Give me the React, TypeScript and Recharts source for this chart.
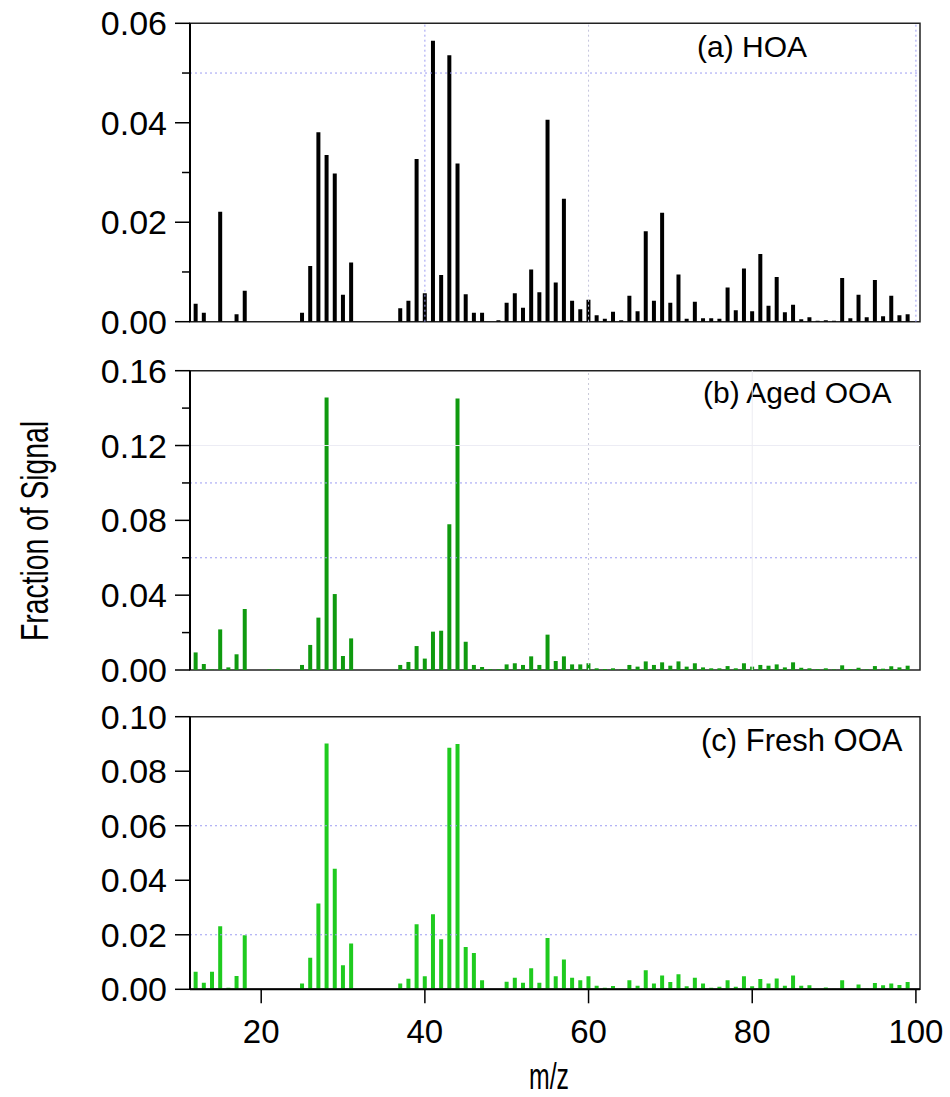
import React from "react";
import { BarChart, Bar, XAxis, YAxis, ReferenceLine, ReferenceArea } from "recharts";

// m/z values
const MZ = [12, 13, 14, 15, 16, 17, 18, 19, 20, 21, 22, 23, 24, 25, 26, 27, 28, 29, 30, 31, 32, 33, 34, 35, 36, 37, 38, 39, 40, 41, 42, 43, 44, 45, 46, 47, 48, 49, 50, 51, 52, 53, 54, 55, 56, 57, 58, 59, 60, 61, 62, 63, 64, 65, 66, 67, 68, 69, 70, 71, 72, 73, 74, 75, 76, 77, 78, 79, 80, 81, 82, 83, 84, 85, 86, 87, 88, 89, 90, 91, 92, 93, 94, 95, 96, 97, 98, 99, 100];

// (a) HOA
const HOA = [
  0.0036, 0.0018, 0, 0.0221, 0, 0.0015, 0.0062, 0, 0, 0, 0, 0, 0, 0.0018, 0.0112, 0.0381, 0.0335, 0.0298, 0.0054, 0.0119,
  0, 0, 0, 0, 0, 0.0027, 0.0042, 0.0327, 0.0057, 0.0565, 0.0094, 0.0536, 0.0318, 0.0055, 0.0018, 0.0018, 0, 0.0003, 0.0038, 0.0057,
  0.0028, 0.0105, 0.0059, 0.0406, 0.0079, 0.0247, 0.0042, 0.0025, 0.0044, 0.0013, 0.0006, 0.002, 0.0003, 0.0052, 0.0021, 0.0182, 0.0042, 0.0219, 0.0038, 0.0095,
  0.0006, 0.004, 0.0007, 0.0007, 0.0006, 0.0069, 0.0023, 0.0107, 0.0021, 0.0136, 0.0032, 0.009, 0.0019, 0.0034, 0.0005, 0.0009, 0.0002, 0.0003, 0.0002, 0.0088,
  0.0007, 0.0054, 0.0009, 0.0084, 0.0011, 0.0052, 0.0013, 0.0015, 0,
];

// (b) Aged OOA
const AGED_OOA = [
  0.0094, 0.0032, 0.0003, 0.0217, 0.0014, 0.0084, 0.0326, 0, 0, 0.0003, 0.0003, 0, 0, 0.0027, 0.0134, 0.028, 0.1457, 0.0406, 0.0075, 0.0169,
  0, 0, 0, 0, 0, 0.0027, 0.0043, 0.0128, 0.0061, 0.0205, 0.021, 0.0779, 0.1452, 0.0151, 0.0027, 0.0016, 0.0004, 0.0004, 0.003, 0.0036,
  0.0027, 0.0073, 0.0027, 0.0189, 0.0048, 0.0073, 0.003, 0.003, 0.0036, 0.0009, 0.0005, 0.0009, 0.0003, 0.0027, 0.0018, 0.0046, 0.0027, 0.0041, 0.0023, 0.0046,
  0.0018, 0.0036, 0.0014, 0.0009, 0.0009, 0.0021, 0.0009, 0.0036, 0.0018, 0.0027, 0.0023, 0.003, 0.0014, 0.0041, 0.0012, 0.0009, 0.0004, 0.0009, 0.0003, 0.0025,
  0.0005, 0.0012, 0.0003, 0.0021, 0.0007, 0.002, 0.0014, 0.0023, 0,
];

// (c) Fresh OOA
const FRESH_OOA = [
  0.0064, 0.0024, 0.0064, 0.0231, 0.0006, 0.0049, 0.0198, 0, 0, 0, 0, 0, 0, 0.0021, 0.0116, 0.0315, 0.0902, 0.0442, 0.0088, 0.0168,
  0, 0, 0, 0, 0, 0.0021, 0.0039, 0.0239, 0.0048, 0.0275, 0.0184, 0.0886, 0.09, 0.0155, 0.0133, 0.0033, 0, 0.0001, 0.0028, 0.0042,
  0.0024, 0.0077, 0.0024, 0.0188, 0.0048, 0.0109, 0.0042, 0.0033, 0.0048, 0.0013, 0.0006, 0.0012, 0.0002, 0.0033, 0.0013, 0.007, 0.0021, 0.0051, 0.0027, 0.0055,
  0.0011, 0.0042, 0.0021, 0.0006, 0.0009, 0.0033, 0.0009, 0.0048, 0.0011, 0.0038, 0.0021, 0.004, 0.0013, 0.0051, 0.0013, 0.0015, 0.0002, 0.0007, 0.0002, 0.0033,
  0.0003, 0.0018, 0.0003, 0.0023, 0.0015, 0.0021, 0.0016, 0.0027, 0,
];

// tick labels
const X_TICKS = [20, 40, 60, 80, 100];
const Y_TICKS_A = [0, 0.01, 0.02, 0.03, 0.04, 0.05, 0.06];
const Y_MAJOR_A = [0, 0.02, 0.04, 0.06];
const Y_TICKS_B = [0, 0.02, 0.04, 0.06, 0.08, 0.1, 0.12, 0.14, 0.16];
const Y_MAJOR_B = [0, 0.04, 0.08, 0.12, 0.16];
const Y_TICKS_C = [0, 0.02, 0.04, 0.06, 0.08, 0.1];
const Y_MAJOR_C = [0, 0.02, 0.04, 0.06, 0.08, 0.1];

const X_DOMAIN: [number, number] = [11.3, 100.5];
const AXIS_X = 190;
const SANS = "'Liberation Sans', Arial, sans-serif";
const GRID_BLUE = "#9c9cf2";

const dataA = MZ.map((mz, i) => ({ mz, v: HOA[i] }));
const dataB = MZ.map((mz, i) => ({ mz, v: AGED_OOA[i] }));
const dataC = MZ.map((mz, i) => ({ mz, v: FRESH_OOA[i] }));

function makeYTick(majors: number[]) {
  return (props: any) => {
    const { y, payload } = props;
    const v = payload.value as number;
    const major = majors.some((m) => Math.abs(m - v) < 1e-9);
    return (
      <g>
        <line x1={AXIS_X - (major ? 15 : 8)} x2={AXIS_X} y1={y} y2={y} stroke="#000" strokeWidth={1.5} />
        {major && (
          <text x={AXIS_X - 23} y={y + 12} textAnchor="end" fontSize={34} fontFamily={SANS} fill="#000">
            {v.toFixed(2)}
          </text>
        )}
      </g>
    );
  };
}

const W = 950;

export default function App() {
  return (
    <div style={{ position: "absolute", left: 0, top: 0, width: W, height: 1097, background: "#fff" }}>
      {/* (a) HOA */}
      <div style={{ position: "absolute", left: 0, top: 0 }}>
        <BarChart width={W} height={345} data={dataA} margin={{ top: 23.3, right: 30, bottom: 23.3, left: 0 }}>
          <XAxis type="number" dataKey="mz" domain={X_DOMAIN} allowDataOverflow height={0} tick={false} tickLine={false} axisLine={{ stroke: "#000", strokeWidth: 2 }} />
          <YAxis type="number" domain={[0, 0.06]} allowDataOverflow ticks={Y_TICKS_A} interval={0} width={AXIS_X} tickLine={false} tick={makeYTick(Y_MAJOR_A)} axisLine={{ stroke: "#000", strokeWidth: 2 }} />
          <ReferenceLine y={0.05} stroke={GRID_BLUE} strokeDasharray="2 3" />
          <ReferenceLine x={40} stroke={GRID_BLUE} strokeDasharray="2 3" />
          <ReferenceLine x={60} stroke="#c4c4dc" strokeDasharray="2 3" />
          <ReferenceLine x={100} stroke={GRID_BLUE} strokeDasharray="2 3" />
          <ReferenceArea x1={X_DOMAIN[0]} x2={X_DOMAIN[1]} y1={0} y2={0.06} fill="none" stroke="#222" strokeWidth={1.5} />
          <Bar dataKey="v" fill="#000" barSize={4} isAnimationActive={false} />
          <text x={697} y={56.7} fontSize={30} fontFamily={SANS} fill="#000">(a) HOA</text>
        </BarChart>
      </div>

      {/* (b) Aged OOA */}
      <div style={{ position: "absolute", left: 0, top: 345 }}>
        <BarChart width={W} height={350} data={dataB} margin={{ top: 25.7, right: 30, bottom: 25, left: 0 }}>
          <XAxis type="number" dataKey="mz" domain={X_DOMAIN} allowDataOverflow height={0} tick={false} tickLine={false} axisLine={{ stroke: "#000", strokeWidth: 2 }} />
          <YAxis type="number" domain={[0, 0.16]} allowDataOverflow ticks={Y_TICKS_B} interval={0} width={AXIS_X} tickLine={false} tick={makeYTick(Y_MAJOR_B)} axisLine={{ stroke: "#000", strokeWidth: 2 }} />
          <ReferenceLine y={0.12} stroke="#ececf4" />
          <ReferenceLine y={0.1} stroke={GRID_BLUE} strokeDasharray="2 3" />
          <ReferenceLine y={0.06} stroke={GRID_BLUE} strokeDasharray="2 3" />
          <ReferenceLine x={60} stroke="#c8c8d8" strokeDasharray="2 3" />
          <ReferenceLine x={80} stroke="#ececf2" />
          <ReferenceArea x1={X_DOMAIN[0]} x2={X_DOMAIN[1]} y1={0} y2={0.16} fill="none" stroke="#222" strokeWidth={1.5} />
          <Bar dataKey="v" fill="#0f9a0f" barSize={4} isAnimationActive={false} />
          <text x={703} y={58.3} fontSize={30} fontFamily={SANS} fill="#000">(b) Aged OOA</text>
          <text
            x={48}
            y={186}
            transform="rotate(-90, 48, 186)"
            textAnchor="middle"
            fontSize={38}
            fontFamily={SANS}
            textLength={220}
            lengthAdjust="spacingAndGlyphs"
            fill="#000"
          >
            Fraction of Signal
          </text>
        </BarChart>
      </div>

      {/* (c) Fresh OOA */}
      <div style={{ position: "absolute", left: 0, top: 695 }}>
        <BarChart width={W} height={402} data={dataC} margin={{ top: 21.7, right: 30, bottom: 27.7, left: 0 }}>
          <XAxis
            type="number"
            dataKey="mz"
            domain={X_DOMAIN}
            allowDataOverflow
            ticks={X_TICKS}
            interval={0}
            height={80}
            tickSize={14}
            tickMargin={16}
            tick={{ fontSize: 33, fill: "#000", fontFamily: SANS }}
            tickLine={{ stroke: "#000", strokeWidth: 1.5 }}
            axisLine={{ stroke: "#000", strokeWidth: 2 }}
          />
          <YAxis type="number" domain={[0, 0.1]} allowDataOverflow ticks={Y_TICKS_C} interval={0} width={AXIS_X} tickLine={false} tick={makeYTick(Y_MAJOR_C)} axisLine={{ stroke: "#000", strokeWidth: 2 }} />
          <ReferenceLine y={0.06} stroke={GRID_BLUE} strokeDasharray="2 3" />
          <ReferenceLine y={0.02} stroke={GRID_BLUE} strokeDasharray="2 3" />
          <ReferenceArea x1={X_DOMAIN[0]} x2={X_DOMAIN[1]} y1={0} y2={0.1} fill="none" stroke="#222" strokeWidth={1.5} />
          <Bar dataKey="v" fill="#1fcb1f" barSize={4} isAnimationActive={false} />
          <text x={701} y={55.7} fontSize={31} fontFamily={SANS} fill="#000">(c) Fresh OOA</text>
          <text x={549} y={394} textAnchor="middle" fontSize={36} fontFamily={SANS} textLength={40} lengthAdjust="spacingAndGlyphs" fill="#000">m/z</text>
        </BarChart>
      </div>
    </div>
  );
}
